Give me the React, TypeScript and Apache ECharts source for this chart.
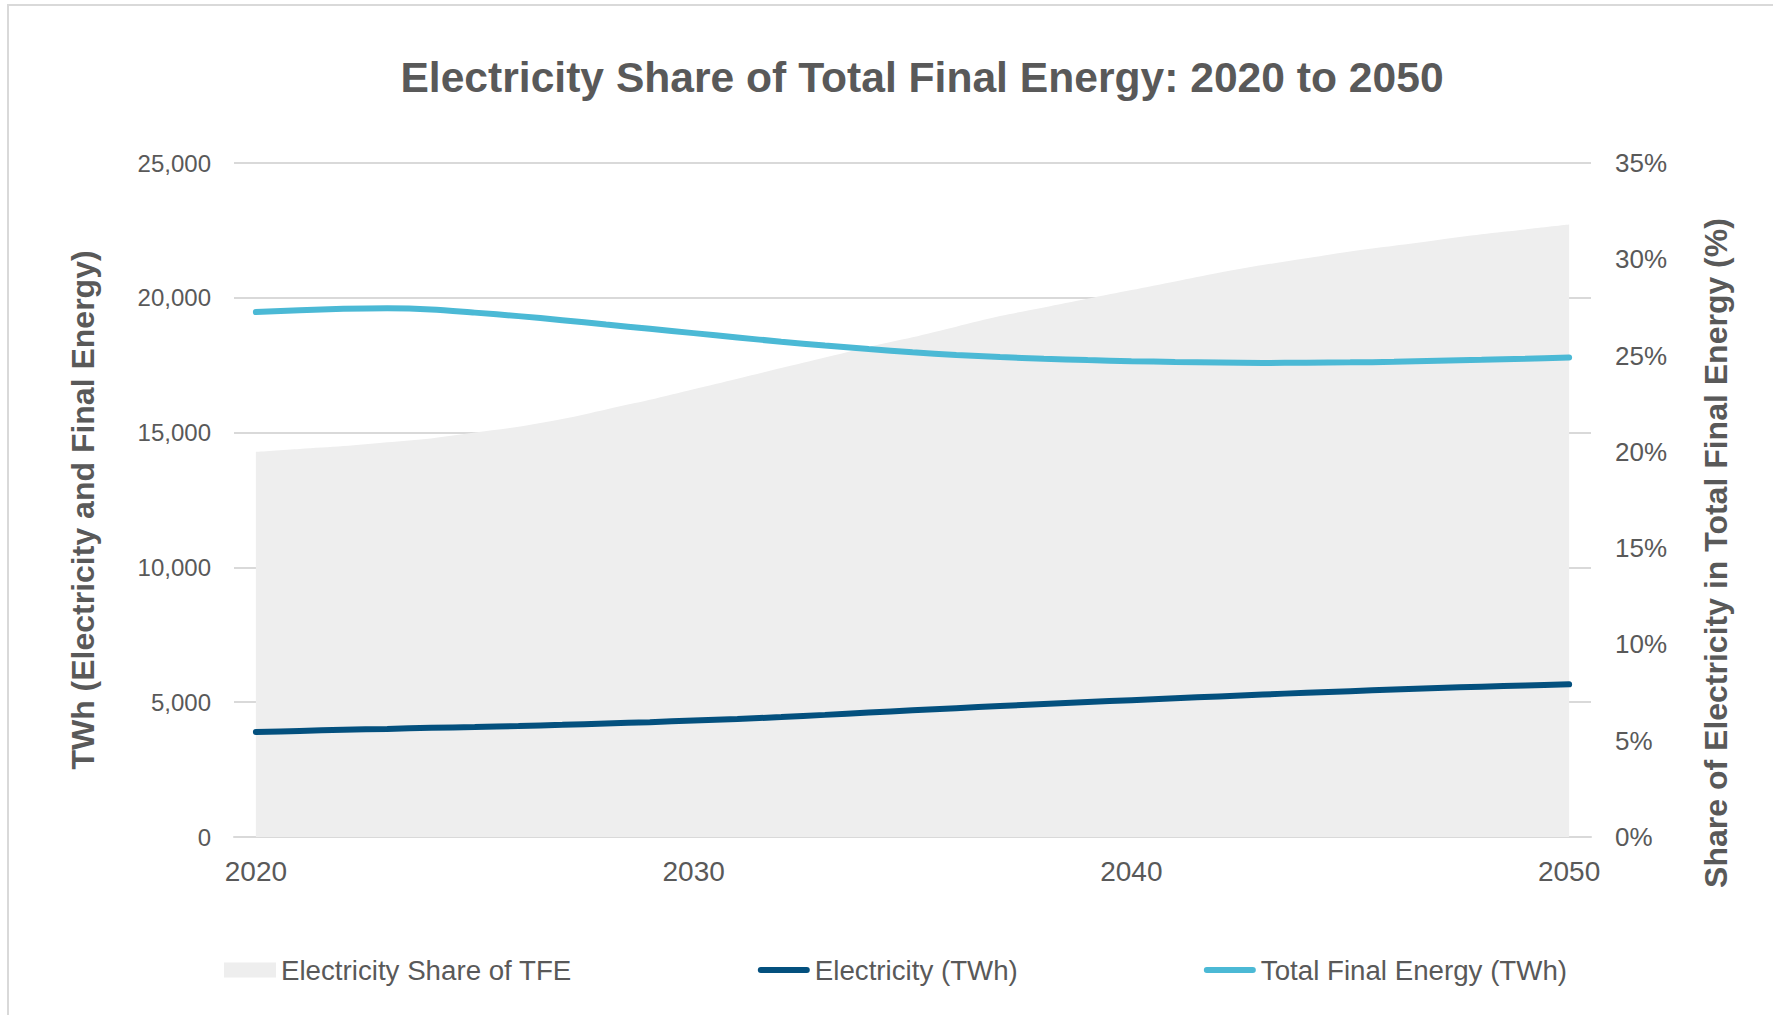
import React, { useEffect, useRef } from "react";
import * as echarts from "echarts";

// Years on the category axis, 2020 to 2050
const years: string[] = [
  "2020", "2021", "2022", "2023", "2024", "2025", "2026", "2027", "2028", "2029",
  "2030", "2031", "2032", "2033", "2034", "2035", "2036", "2037", "2038", "2039",
  "2040", "2041", "2042", "2043", "2044", "2045", "2046", "2047", "2048", "2049",
  "2050",
];

// Electricity share of total final energy (%)
const shareOfTFE: number[] = [
  20.0, 20.15, 20.3, 20.5, 20.7, 21.0, 21.3, 21.7, 22.2, 22.7,
  23.25, 23.8, 24.35, 24.9, 25.45, 25.95, 26.5, 27.05, 27.5, 27.95,
  28.4, 28.85, 29.3, 29.7, 30.05, 30.4, 30.7, 31.0, 31.3, 31.55,
  31.8,
];

// Electricity (TWh)
const electricityTWh: number[] = [
  3895, 3935, 3975, 4010, 4050, 4080, 4115, 4160, 4210, 4260,
  4320, 4380, 4450, 4530, 4615, 4700, 4780, 4860, 4935, 5005,
  5075, 5145, 5215, 5285, 5350, 5410, 5470, 5525, 5575, 5620,
  5663,
];

// Total final energy (TWh)
const totalFinalEnergyTWh: number[] = [
  19470, 19540, 19590, 19610, 19570, 19450, 19320, 19170, 19010, 18850,
  18690, 18530, 18370, 18230, 18100, 17980, 17880, 17800, 17740, 17690,
  17650, 17620, 17600, 17585, 17590, 17605, 17625, 17665, 17700, 17740,
  17790,
];

const seriesNames = ["Electricity Share of TFE", "Electricity (TWh)", "Total Final Energy (TWh)"];

const FONT = "'Liberation Sans', Arial, sans-serif";
const TEXT_GREY = "#595959";
const GRID_GREY = "#D9D9D9";

// Legend key for the line series: a thick stroke with rounded ends
const LINE_KEY = "path://M3,0 H49 A3,3 0 0 1 49,6 H3 A3,3 0 0 1 3,0 Z";

export default function App() {
  const ref = useRef<HTMLDivElement>(null);

  useEffect(() => {
    document.body.style.margin = "0";
    if (!ref.current) return;
    const chart = echarts.init(ref.current, undefined, { renderer: "svg" });

    chart.setOption({
      animation: false,
      backgroundColor: "#ffffff",
      textStyle: { fontFamily: FONT },
      title: {
        text: "Electricity Share of Total Final Energy: 2020 to 2050",
        left: 917,
        top: 50,
        textAlign: "center",
        textStyle: { fontFamily: FONT, fontSize: 42.6, fontWeight: "bold", color: TEXT_GREY },
      },
      grid: { left: 234, right: 182, top: 163, bottom: 178, containLabel: false },
      legend: {
        left: 219,
        top: 951,
        itemWidth: 52,
        itemHeight: 15,
        itemGap: 186,
        symbolKeepAspect: true,
        textStyle: { fontFamily: FONT, fontSize: 27.7, color: TEXT_GREY },
        data: [
          { name: seriesNames[0], icon: "rect" },
          { name: seriesNames[1], icon: LINE_KEY },
          { name: seriesNames[2], icon: LINE_KEY },
        ],
      },
      xAxis: {
        type: "category",
        data: years,
        boundaryGap: true,
        axisTick: { show: false },
        axisLine: { show: true, lineStyle: { color: GRID_GREY, width: 2 } },
        axisLabel: { interval: 9, margin: 20, fontFamily: FONT, fontSize: 28, color: TEXT_GREY },
        splitLine: { show: false },
      },
      yAxis: [
        {
          type: "value",
          min: 0,
          max: 25000,
          interval: 5000,
          axisLine: { show: false },
          axisTick: { show: false },
          axisLabel: {
            margin: 23,
            fontFamily: FONT,
            fontSize: 24,
            color: TEXT_GREY,
            formatter: (v: number) => v.toLocaleString("en-US"),
          },
          splitLine: { show: true, lineStyle: { color: GRID_GREY, width: 2 } },
        },
        {
          type: "value",
          min: 0,
          max: 35,
          interval: 5,
          position: "right",
          axisLine: { show: false },
          axisTick: { show: false },
          axisLabel: {
            margin: 24,
            fontFamily: FONT,
            fontSize: 26,
            color: TEXT_GREY,
            formatter: "{value}%",
          },
          splitLine: { show: false },
        },
      ],
      series: [
        {
          name: seriesNames[0],
          type: "line",
          yAxisIndex: 1,
          data: shareOfTFE,
          smooth: 0.3,
          symbol: "none",
          itemStyle: { color: "#EEEEEE" },
          lineStyle: { width: 0, color: "#EEEEEE" },
          areaStyle: { color: "#EEEEEE", opacity: 1 },
          z: 1,
        },
        {
          name: seriesNames[1],
          type: "line",
          yAxisIndex: 0,
          data: electricityTWh,
          smooth: 0.3,
          symbol: "none",
          itemStyle: { color: "#03507E" },
          lineStyle: { width: 6, color: "#03507E", cap: "round" },
          z: 3,
        },
        {
          name: seriesNames[2],
          type: "line",
          yAxisIndex: 0,
          data: totalFinalEnergyTWh,
          smooth: 0.3,
          symbol: "none",
          itemStyle: { color: "#4BB9D5" },
          lineStyle: { width: 6, color: "#4BB9D5", cap: "round" },
          z: 3,
        },
      ],
      graphic: [
        {
          type: "rect",
          shape: { x: 8, y: 5, width: 2000, height: 2000 },
          style: { fill: "none", stroke: GRID_GREY, lineWidth: 2 },
          silent: true,
          z: 0,
        },
        {
          type: "text",
          x: 83,
          y: 510,
          rotation: Math.PI / 2,
          style: {
            text: "TWh (Electricity and Final Energy)",
            fontFamily: FONT,
            fontSize: 32,
            fontWeight: "bold",
            fill: TEXT_GREY,
            align: "center",
            verticalAlign: "middle",
          },
        },
        {
          type: "text",
          x: 1716,
          y: 553,
          rotation: Math.PI / 2,
          style: {
            text: "Share of Electricity in Total Final Energy (%)",
            fontFamily: FONT,
            fontSize: 32,
            fontWeight: "bold",
            fill: TEXT_GREY,
            align: "center",
            verticalAlign: "middle",
          },
        },
      ],
    });

    return () => chart.dispose();
  }, []);

  return <div ref={ref} style={{ width: 1773, height: 1015 }} />;
}
